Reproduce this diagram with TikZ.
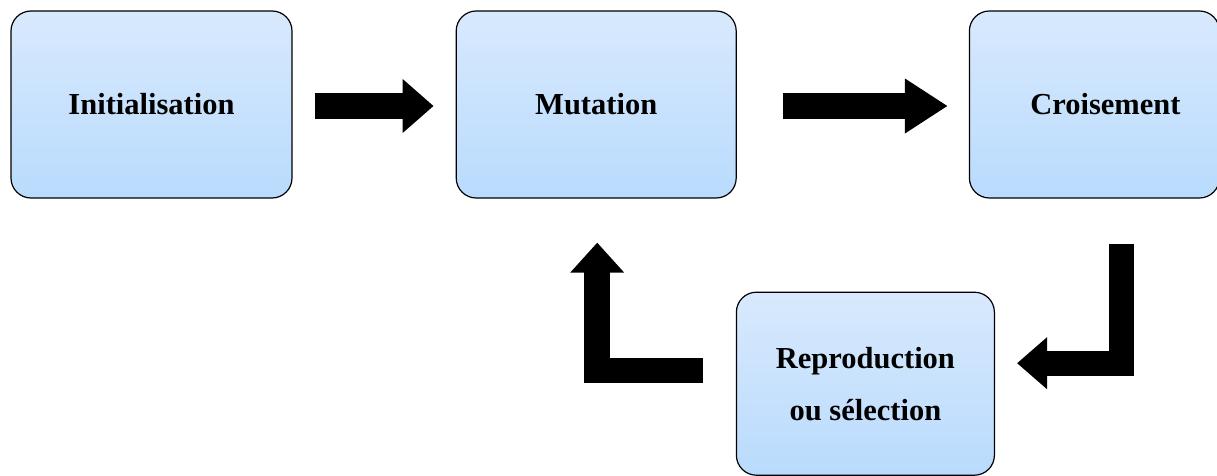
\documentclass[tikz,border=0pt]{standalone}
\usepackage{fontspec}
\setmainfont{Liberation Serif}
\usetikzlibrary{positioning}
\usetikzlibrary{arrows.meta}
\definecolor{boxtop}{HTML}{D8E9FD}
\definecolor{boxbot}{HTML}{B9DBFD}

\begin{document}
\begin{tikzpicture}[x=1pt,y=1pt,
box/.style={draw,line width=1.2pt,rounded corners=20pt,top color=boxtop,bottom color=boxbot,align=center,
 font=\fontsize{30.5pt}{52pt}\selectfont\bfseries,minimum height=187pt},
blockarrow/.style={line width=26pt,line join=miter,-{Triangle[width=52pt,length=31pt]}}]
\useasboundingbox (0,0) rectangle (1217,475);
\node[box,minimum width=281pt] (init) at (151.5,370.5) {Initialisation};
\node[box,minimum width=280pt,right=163pt of init] (mut) {Mutation};
\node[box,minimum width=250pt,right=232pt of mut] (cross) {\hspace*{22pt}Croisement};
\node[box,minimum width=258pt,minimum height=183pt,below right=93pt and -1pt of mut] (repro) {Reproduction\\ou sélection};
\draw[blockarrow] ([xshift=22pt,yshift=-1.5pt]init.east) -- ([xshift=-22pt,yshift=-1.5pt]mut.west);
\draw[blockarrow,-{Triangle[width=52pt,length=43pt]}] ([xshift=46pt,yshift=-1.5pt]mut.east) -- ([xshift=-21pt,yshift=-1.5pt]cross.west);
\draw[blockarrow,line width=25pt,-{Triangle[width=50pt,length=30pt]}] ([xshift=27.5pt,yshift=-45pt]cross.south) |- ([xshift=22pt,yshift=20.5pt]repro.east);
\draw[blockarrow,line width=25.5pt,-{Triangle[width=52pt,length=30pt]}] ([xshift=-33pt,yshift=13pt]repro.west) -| ([xshift=1pt,yshift=-44pt]mut.south);
\end{tikzpicture}
\end{document}
